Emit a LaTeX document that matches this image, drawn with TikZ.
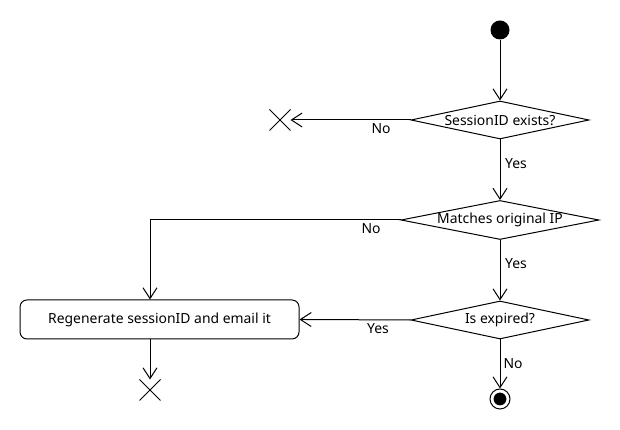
\documentclass[tikz,border=0pt]{standalone}
\usepackage{fontspec}
\setmainfont{Noto Sans}
\usetikzlibrary{arrows.meta,shapes.geometric,shapes.misc}

\tikzset{decision/.style={diamond,draw,aspect=5,inner sep=0pt,font=\fontsize{9.9}{12}\selectfont},
action/.style={rectangle,rounded corners=0.175cm,draw,inner sep=0pt,font=\fontsize{9.9}{12}\selectfont},
initial/.style={circle,fill=black,inner sep=0pt,minimum size=0.475cm},
final/.style={circle,draw,inner sep=0pt,minimum size=0.5cm,path picture={\fill (path picture bounding box.center) circle (0.16cm);}},
flow final/.style={cross out,draw,inner sep=0pt,minimum size=0.5cm},
guard/.style={font=\fontsize{9.9}{12}\selectfont,inner sep=0pt},
flow/.style={-{Straight Barb[length=0.27cm,width=0.35cm]}}}

\begin{document}
\begin{tikzpicture}[line width=0.025cm]
\useasboundingbox (0,0) rectangle (15.5,10.75);

%% Nodes
\node [initial] (start) at (12.500,10.000) {};
\node [decision,minimum width=4.45cm,minimum height=0.95cm] (exists) at (12.500,7.750) {SessionID exists?};
\node [flow final] (x1) at (7.000,7.750) {};
\node [decision,minimum width=4.95cm,minimum height=0.95cm] (matches) at (12.500,5.250) {Matches original IP};
\node [decision,minimum width=4.45cm,minimum height=0.95cm] (expired) at (12.500,2.750) {Is expired?};
\node [action,minimum width=6.975cm,minimum height=0.975cm] (regen) at (3.988,2.763) {Regenerate sessionID and email it};
\node [flow final] (x2) at (3.750,1.000) {};
\node [final] (stop) at (12.500,0.775) {};

%% Flows
\draw [flow] (start) -- (exists);
\draw [flow] (exists.west) -- (x1);
\draw [flow] (exists) -- (matches);
\draw [flow] (matches.west) -| (regen.north -| x2);
\draw [flow] (matches) -- (expired);
\draw [flow] (expired.west) -- (regen.east);
\draw [flow] (regen.south -| x2) -- (x2);
\draw [flow] (expired) -- (stop);

%% Guards
\node [guard] at (9.525,7.525) {No};
\node [guard] at (12.900,6.650) {Yes};
\node [guard] at (9.275,5.025) {No};
\node [guard] at (12.900,4.150) {Yes};
\node [guard] at (9.450,2.525) {Yes};
\node [guard] at (12.825,1.650) {No};

\end{tikzpicture}
\end{document}
